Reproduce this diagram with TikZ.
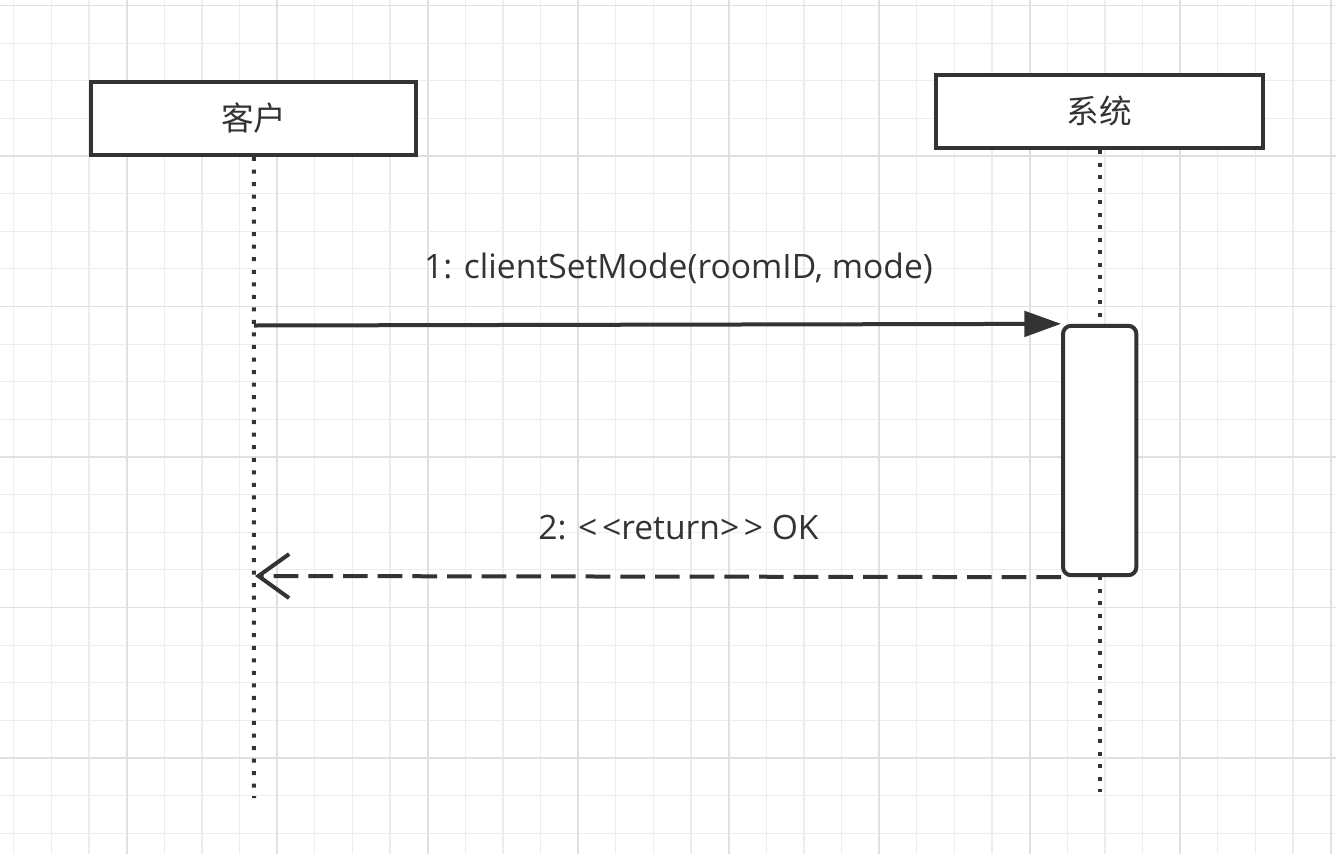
\documentclass[tikz,border=0pt]{standalone}
\usepackage{fontspec}
\setmainfont{Open Sans}
\newfontfamily\cjk{Noto Sans CJK SC}
\usetikzlibrary{arrows.meta}
\definecolor{ink}{HTML}{333333}
\definecolor{gridminor}{HTML}{EDEDED}
\definecolor{gridmajor}{HTML}{E0E0E0}
\begin{document}
\begin{tikzpicture}[x=0.75pt,y=-0.75pt,
  lifebox/.style={draw=ink, line width=3pt, fill=white, minimum width=244pt, minimum height=55pt, inner sep=0pt, text=ink, font=\cjk\fontsize{24.5}{28}\selectfont},
  actbox/.style={draw=ink, line width=3pt, fill=white, rounded corners=6pt, minimum width=55pt, minimum height=187pt, inner sep=0pt},
  lifeline/.style={draw=ink, line width=3pt, dash pattern=on 3pt off 6.4pt},
  msg/.style={draw=ink, line width=3pt},
  msglabel/.style={text=ink, font=\fontsize{25.2}{29}\selectfont, inner sep=0pt}
]
\useasboundingbox (0,0) rectangle (1336,854);
\fill[white] (0,0) rectangle (1336,854);
\foreach \i in {0,...,35} \draw[gridminor, line width=0.9pt] (13.8+37.625*\i,0) -- (13.8+37.625*\i,854);
\foreach \i in {0,...,22} \draw[gridminor, line width=0.9pt] (0,5.5+37.625*\i) -- (1336,5.5+37.625*\i);
\foreach \i in {0,...,8} \draw[gridmajor, line width=1.2pt] (126.7+150.5*\i,0) -- (126.7+150.5*\i,854);
\foreach \i in {0,...,5} \draw[gridmajor, line width=1.2pt] (0,5.5+150.5*\i) -- (1336,5.5+150.5*\i);

\coordinate (cend) at (254,798);
\coordinate (send) at (1099.5,792);
\node[lifebox] (client) at (253.8,118.3) {客户};
\node[lifebox, minimum width=245.5pt] (system) at (1099.5,111.3) {系统};
\draw[lifeline] (client.south) -- (cend);
\draw[lifeline] (system.south) -- (send);
\node[actbox] (act) at (1099.7,450.5) {};

\coordinate (c1) at (254,325.5);
\coordinate (c2) at (255,576);
\draw[msg, -{Triangle[length=27.5pt,width=19pt]}] (c1) -- (act.north west);
\draw[msg, dash pattern=on 18.5pt off 7.5pt, -{Straight Barb[length=23pt,width=33pt]}] (act.south west) -- (c2);

\node[msglabel] (l1) at (678.5,268) {1: clientSetMode(roomID, mode)};
\node[msglabel] (l2) at (678.5,528) {2: <\kern3.5pt<return>\kern3.5pt> OK};
\end{tikzpicture}
\end{document}
